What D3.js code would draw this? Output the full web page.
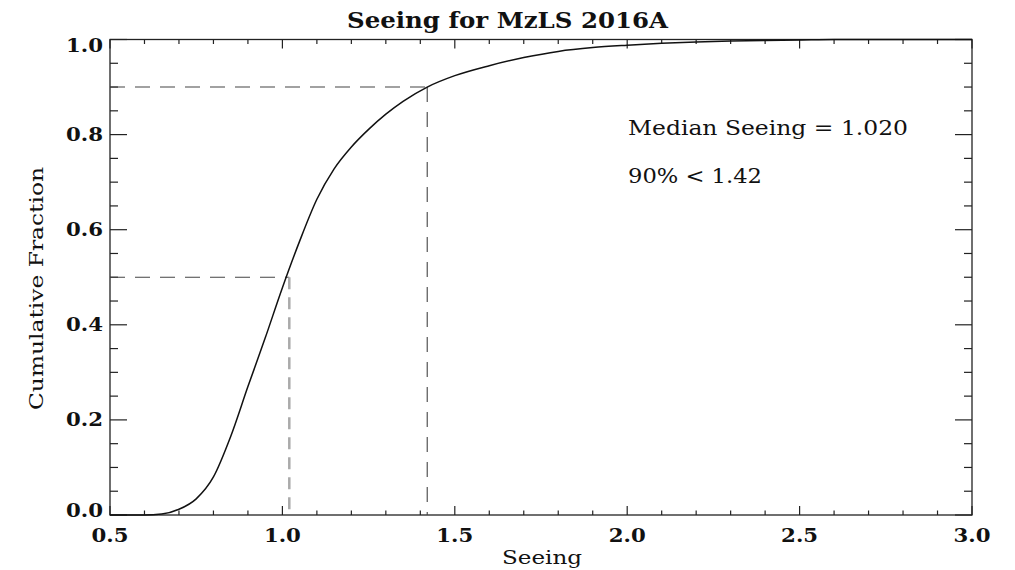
<!DOCTYPE html>
<html>
<head>
<meta charset="utf-8">
<script src="https://cdn.jsdelivr.net/npm/d3@7"></script>
<style>
  body { margin: 0; background: #fff; }
  svg text { font-family: "DejaVu Serif", "Liberation Serif", serif; fill: #111; }
</style>
</head>
<body>
<div id="chart"></div>
<script>
// Curva acumulada
const seeing = [0.5, 0.6, 0.65, 0.7, 0.75, 0.8, 0.85, 0.9, 0.95, 1.0, 1.05, 1.1, 1.15, 1.2, 1.25, 1.3, 1.35, 1.42, 1.5, 1.6, 1.7, 1.8, 1.9, 2.0, 2.1, 2.2, 2.3, 2.4, 2.5, 2.6, 3.0];
const fraction = [0, 0, 0.002, 0.012, 0.034, 0.08, 0.165, 0.27, 0.372, 0.478, 0.576, 0.664, 0.728, 0.774, 0.811, 0.843, 0.87, 0.9, 0.924, 0.945, 0.962, 0.975, 0.983, 0.988, 0.992, 0.995, 0.997, 0.998, 0.999, 1.0, 1.0];

const xTicks = [0.5, 1.0, 1.5, 2.0, 2.5, 3.0];
const yTicks = [0.0, 0.2, 0.4, 0.6, 0.8, 1.0];

const medianSeeing = 1.02;
const seeing90 = 1.42;

const title = 'Seeing for MzLS 2016A';
const notes = ['Median Seeing = 1.020', '90% < 1.42'];
const noteWidths = [280, 134];

const width = 1015, height = 570;
const margin = { left: 110, right: 43, top: 39.5, bottom: 55 };

const svg = d3.select('#chart').append('svg')
  .attr('width', width)
  .attr('height', height);

const x = d3.scaleLinear().domain([0.5, 3.0]).range([margin.left, width - margin.right]);
const y = d3.scaleLinear().domain([0, 1]).range([height - margin.bottom, margin.top]);

const ink = '#222';

// Ticks menores y mayores (hacia dentro, en los cuatro lados)
const xMinor = d3.range(0.5, 3.0001, 0.1);
const yMinor = d3.range(0, 1.0001, 0.05);

const ticks = svg.append('g').attr('stroke', ink).attr('stroke-width', 1.2);
xMinor.forEach(v => {
  const major = xTicks.some(t => Math.abs(t - v) < 1e-6);
  const len = major ? 9 : 4.5;
  ticks.append('line').attr('x1', x(v)).attr('x2', x(v)).attr('y1', y(0)).attr('y2', y(0) - len);
  ticks.append('line').attr('x1', x(v)).attr('x2', x(v)).attr('y1', y(1)).attr('y2', y(1) + len);
});
yMinor.forEach(v => {
  const major = yTicks.some(t => Math.abs(t - v) < 1e-6);
  const len = major ? 17 : 8;
  ticks.append('line').attr('y1', y(v)).attr('y2', y(v)).attr('x1', x(0.5)).attr('x2', x(0.5) + len);
  ticks.append('line').attr('y1', y(v)).attr('y2', y(v)).attr('x1', x(3.0)).attr('x2', x(3.0) - len);
});

// Marco
svg.append('rect')
  .attr('x', x(0.5)).attr('y', y(1))
  .attr('width', x(3.0) - x(0.5)).attr('height', y(0) - y(1))
  .attr('fill', 'none').attr('stroke', ink).attr('stroke-width', 1.3);

// Etiquetas de ticks
svg.append('g').selectAll('text').data(xTicks).enter().append('text')
  .attr('x', d => x(d)).attr('y', y(0) + 27)
  .attr('text-anchor', 'middle')
  .attr('font-size', 18).attr('font-weight', 'bold')
  .attr('textLength', 37).attr('lengthAdjust', 'spacingAndGlyphs')
  .text(d => d.toFixed(1));

svg.append('g').selectAll('text').data(yTicks).enter().append('text')
  .attr('x', x(0.5) - 44).attr('y', d => Math.min(517, Math.max(52, y(d) + 6)))
  .attr('font-size', 18).attr('font-weight', 'bold')
  .attr('textLength', 37).attr('lengthAdjust', 'spacingAndGlyphs')
  .text(d => d.toFixed(1));

// Líneas de referencia discontinuas
const guides = svg.append('g').attr('fill', 'none');
guides.append('line')
  .attr('x1', x(0.5)).attr('x2', x(seeing90)).attr('y1', y(0.9)).attr('y2', y(0.9))
  .attr('stroke', '#444').attr('stroke-width', 1.1).attr('stroke-dasharray', '15,10');
guides.append('line')
  .attr('x1', x(seeing90)).attr('x2', x(seeing90)).attr('y1', y(0.9)).attr('y2', y(0))
  .attr('stroke', '#444').attr('stroke-width', 1.1).attr('stroke-dasharray', '15,10');
guides.append('line')
  .attr('x1', x(0.5)).attr('x2', x(medianSeeing)).attr('y1', y(0.5)).attr('y2', y(0.5))
  .attr('stroke', '#444').attr('stroke-width', 1.1).attr('stroke-dasharray', '15,10');
guides.append('line')
  .attr('x1', x(medianSeeing)).attr('x2', x(medianSeeing)).attr('y1', y(0.5)).attr('y2', y(0))
  .attr('stroke', '#aaa').attr('stroke-width', 2.5).attr('stroke-dasharray', '12,8');

// Curva acumulada
const points = seeing.map((s, i) => [s, fraction[i]]);
svg.append('path')
  .datum(points)
  .attr('fill', 'none')
  .attr('stroke', '#111')
  .attr('stroke-width', 1.5)
  .attr('d', d3.line().x(d => x(d[0])).y(d => y(d[1])).curve(d3.curveMonotoneX));

// Títulos y anotaciones
svg.append('text')
  .attr('x', 347).attr('y', 28)
  .attr('font-size', 22).attr('font-weight', 'bold')
  .attr('textLength', 321).attr('lengthAdjust', 'spacingAndGlyphs')
  .text(title);

svg.append('text')
  .attr('x', 502).attr('y', 564)
  .attr('font-size', 19)
  .attr('textLength', 80).attr('lengthAdjust', 'spacingAndGlyphs')
  .text('Seeing');

svg.append('text')
  .attr('transform', 'translate(43, 410) rotate(-90)')
  .attr('font-size', 19)
  .attr('textLength', 243).attr('lengthAdjust', 'spacingAndGlyphs')
  .text('Cumulative Fraction');

notes.forEach((t, i) => {
  svg.append('text')
    .attr('x', 628).attr('y', 135 + i * 48)
    .attr('font-size', 20)
    .attr('textLength', noteWidths[i]).attr('lengthAdjust', 'spacingAndGlyphs')
    .text(t);
});
</script>
</body>
</html>
